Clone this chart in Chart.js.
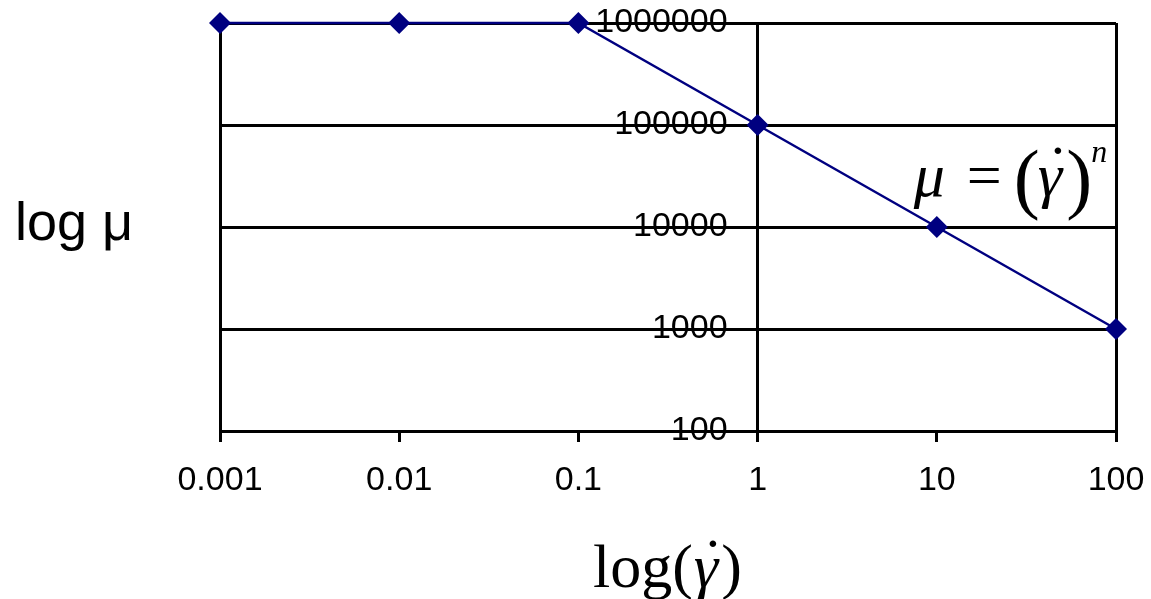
<!DOCTYPE html>
<html>
<head>
<meta charset="utf-8">
<script src="https://cdn.jsdelivr.net/npm/chart.js@4/dist/chart.umd.min.js"></script>
<style>
  html, body { margin: 0; padding: 0; background: #ffffff; }
  #wrap { position: relative; width: 1151px; height: 599px; }
</style>
</head>
<body>
<div id="wrap"><canvas id="viscChart"></canvas></div>
<script>
// shear rate (x) vs viscosity (y), both on log scales
const shearRates = [0.001, 0.01, 0.1, 1, 10, 100];
const viscosity = [1000000, 1000000, 1000000, 100000, 10000, 1000];

const xTickValues = [0.001, 0.01, 0.1, 1, 10, 100];
const xTickLabels = ['0.001', '0.01', '0.1', '1', '10', '100'];
const yTickValues = [100, 1000, 10000, 100000, 1000000];
const yTickLabels = ['100', '1000', '10000', '100000', '1000000'];

const SANS = '"Liberation Sans", Arial, sans-serif';
const SERIF = '"Liberation Serif", "Times New Roman", serif';

// vertical frame lines: left edge, the x = 1 line and right edge
const framedX = [0.001, 1, 100];
// the y labels sit a little left of the x = 1 line
const yLabelsAt = 0.68;

const textPlugin = {
    id: 'texts',
    afterDraw(chart) {
        const ctx = chart.ctx;
        const xs = chart.scales.x;
        const ys = chart.scales.y;
        ctx.save();
        ctx.fillStyle = '#000000';
        ctx.textBaseline = 'alphabetic';
        ctx.textAlign = 'left';

        // left label
        ctx.font = '54px ' + SANS;
        ctx.fillText('log μ', 15, 240);

        // bottom label: log(γ̇)
        let x = (xs.left + xs.right) / 2 - 75;
        const by = 587;
        ctx.font = '62px ' + SERIF;
        ctx.fillText('log(', x, by);
        x += ctx.measureText('log(').width + 1;
        ctx.font = 'italic 62px ' + SERIF;
        ctx.fillText('γ', x, by);
        const gw = ctx.measureText('γ').width;
        ctx.font = '62px ' + SERIF;
        ctx.fillText('˙', x + gw * 0.35, by - 6);
        x += gw + 3;
        ctx.fillText(')', x, by);

        // formula near the curve: μ = (γ̇)^n
        x = xs.getPixelForValue(10) - 23;
        const fy = ys.getPixelForValue(100000) + 71;
        ctx.font = 'italic 62px ' + SERIF;
        ctx.fillText('μ', x, fy);
        x = xs.getPixelForValue(10) + 30;
        ctx.font = '62px ' + SERIF;
        ctx.fillText('=', x, fy);
        x += ctx.measureText('=').width + 12;
        ctx.font = '78px ' + SERIF;
        ctx.fillText('(', x, fy + 8);
        x += ctx.measureText('(').width - 2;
        ctx.font = 'italic 62px ' + SERIF;
        ctx.fillText('γ', x, fy);
        const fw = ctx.measureText('γ').width;
        ctx.font = '62px ' + SERIF;
        ctx.fillText('˙', x + fw * 0.4, fy - 8);
        x += fw + 4;
        ctx.font = '78px ' + SERIF;
        ctx.fillText(')', x, fy + 8);
        x += ctx.measureText(')').width - 1;
        ctx.font = 'italic 32px ' + SERIF;
        ctx.fillText('n', x, fy - 34);

        ctx.restore();
    }
};

const ctx = document.getElementById('viscChart').getContext('2d');
new Chart(ctx, {
    type: 'scatter',
    data: {
        datasets: [{
            label: 'mu',
            data: shearRates.map((v, i) => ({ x: v, y: viscosity[i] })),
            showLine: true,
            borderColor: '#000080',
            backgroundColor: '#000080',
            borderWidth: 2.5,
            pointStyle: 'rectRot',
            pointRadius: 11,
            pointBorderWidth: 0,
            pointBackgroundColor: '#000080',
            clip: false
        }]
    },
    options: {
        responsive: true,
        maintainAspectRatio: false,
        animation: false,
        events: [],
        layout: { padding: { left: 220, top: 23, right: 35, bottom: 0 } },
        plugins: {
            legend: { display: false },
            tooltip: { enabled: false }
        },
        scales: {
            x: {
                type: 'logarithmic',
                position: 'bottom',
                min: 0.001,
                max: 100,
                afterBuildTicks: function (scale) {
                    scale.ticks = xTickValues.map(v => ({ value: v }));
                },
                afterFit: function (scale) {
                    scale.height = 168;
                    scale.paddingLeft = 0;
                    scale.paddingRight = 0;
                },
                grid: {
                    color: function (c) {
                        return c.tick && framedX.includes(c.tick.value) ? '#000000' : 'rgba(0,0,0,0)';
                    },
                    tickColor: '#000000',
                    lineWidth: 3,
                    tickLength: 11,
                    drawTicks: true
                },
                border: { display: true, color: '#000000', width: 3 },
                ticks: {
                    color: '#000000',
                    font: { family: SANS, size: 34 },
                    padding: 18,
                    maxRotation: 0,
                    autoSkip: false,
                    callback: function (value, index) { return xTickLabels[index]; }
                }
            },
            y: {
                type: 'logarithmic',
                position: { x: yLabelsAt },
                min: 100,
                max: 1000000,
                afterBuildTicks: function (scale) {
                    scale.ticks = yTickValues.map(v => ({ value: v }));
                },
                afterFit: function (scale) {
                    scale.paddingTop = 0;
                    scale.paddingBottom = 0;
                },
                grid: {
                    color: '#000000',
                    lineWidth: 3,
                    drawTicks: false,
                    tickLength: 0
                },
                border: { display: false },
                ticks: {
                    color: '#000000',
                    font: { family: SANS, size: 34 },
                    autoSkip: false,
                    callback: function (value, index) { return yTickLabels[index]; }
                }
            }
        }
    },
    plugins: [textPlugin]
});
</script>
</body>
</html>
